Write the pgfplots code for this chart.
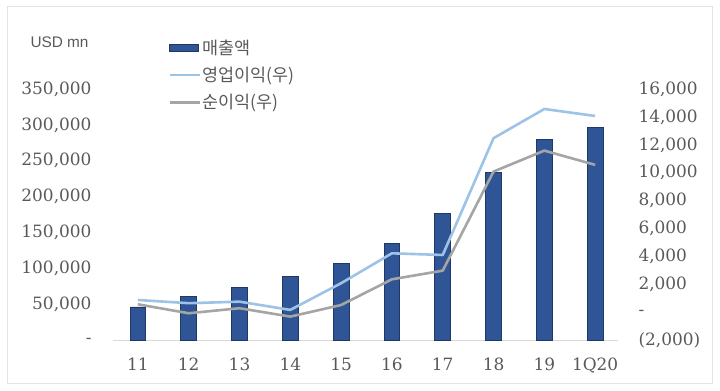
\documentclass[border=0pt]{standalone}
\usepackage{fontspec}
\setmainfont{DejaVu Serif}
\newfontfamily\kr{Noto Sans CJK KR}
\newfontfamily\sansf{Liberation Sans}
\usepackage{pgfplots}
\pgfplotsset{compat=1.18}
\definecolor{barblue}{HTML}{2F5597}
\definecolor{bardark}{HTML}{1F3864}
\definecolor{oplblue}{HTML}{9DC3E6}
\definecolor{netgray}{HTML}{A5A5A5}
\definecolor{txtgray}{HTML}{595959}
\definecolor{framegray}{HTML}{E3E3E3}
\definecolor{axgray}{HTML}{D9D9D9}
\begin{document}
\begin{tikzpicture}
\path[use as bounding box] (0,0) rectangle (720bp,391bp);
\draw[framegray, line width=0.8bp] (7bp,8bp) rectangle (712bp,385bp);
\node[font=\sansf\fontsize{15.4}{18}\selectfont, text=txtgray] at (59.5bp,349bp) {USD mn};
\begin{axis}[
  at={(113bp,50.5bp)}, anchor=south west,
  scale only axis, width=505bp, height=251.5bp,
  xmin=-0.49, xmax=9.45, ymin=0, ymax=350000,
  scaled y ticks=false,
  axis lines*=left,
  y axis line style={draw=none},
  x axis line style={draw=axgray, line width=1bp},
  tick style={draw=none},
  xtick={0,...,9},
  xticklabels={11,12,13,14,15,16,17,18,19,1Q20},
  ytick={0,50000,100000,150000,200000,250000,300000,350000},
  yticklabels={{-},{50,000},{100,000},{150,000},{200,000},{250,000},{300,000},{350,000}},
  /pgf/number format/assume math mode=true,
  tick label style={font=\fontsize{17}{20}\selectfont, text=txtgray},
  xticklabel style={yshift=-10bp},
  yticklabel style={xshift=-18bp},
  ybar, bar width=15.7bp,
  clip=false,
]
\addplot[fill=barblue, draw=bardark, line width=0.8bp] coordinates {
(0,46700) (1,61000) (2,73600) (3,89000) (4,106700)
(5,135500) (6,177000) (7,234000) (8,280000) (9,296000)};
\end{axis}
\begin{axis}[
  at={(113bp,50.5bp)}, anchor=south west,
  scale only axis, width=505bp, height=251.5bp,
  xmin=-0.49, xmax=9.45, ymin=-2000, ymax=16000,
  scaled y ticks=false,
  axis x line=none,
  axis y line*=right,
  y axis line style={draw=none},
  tick style={draw=none},
  ytick={-2000,0,2000,4000,6000,8000,10000,12000,14000,16000},
  yticklabels={{(2,000)},{-},{2,000},{4,000},{6,000},{8,000},{10,000},{12,000},{14,000},{16,000}},
  /pgf/number format/assume math mode=true,
  tick label style={font=\fontsize{17}{20}\selectfont, text=txtgray},
  yticklabel style={xshift=17bp, anchor=west},
  clip=false,
  legend style={at={(0.109,1.205)}, anchor=north west, draw=none, fill=none,
    font=\kr\fontsize{17.5}{20}\selectfont, text=txtgray,
    row sep=7.5bp, inner sep=0pt, cells={anchor=west}},
  legend cell align=left,
]
\addlegendimage{legend image code/.code={\draw[fill=barblue, draw=bardark, line width=0.8bp] (0bp,-3.5bp) rectangle (29bp,3.5bp);}}
\addlegendentry{매출액}
\addplot[color=oplblue, line width=2.6bp, line join=round,
  legend image code/.code={\draw[color=oplblue, line width=2.6bp] (0bp,0bp) -- (30bp,0bp);}]
  coordinates {
(0,900) (1,670) (2,780) (3,190) (4,2100)
(5,4240) (6,4120) (7,12480) (8,14570) (9,14070)};
\addlegendentry{영업이익(우)}
\addplot[color=netgray, line width=2.6bp, line join=round,
  legend image code/.code={\draw[color=netgray, line width=2.6bp] (0bp,0bp) -- (30bp,0bp);}]
  coordinates {
(0,590) (1,-50) (2,310) (3,-290) (4,540)
(5,2380) (6,3000) (7,10090) (8,11590) (9,10570)};
\addlegendentry{순이익(우)}
\end{axis}
\end{tikzpicture}
\end{document}
